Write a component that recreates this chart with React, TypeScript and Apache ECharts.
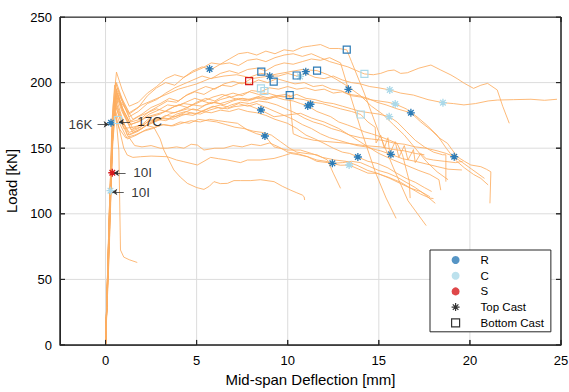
import React, { useEffect, useRef } from "react";
import * as echarts from "echarts";

// ---------- data (mid-span deflection [mm], load [kN]) ----------
const c01 = [[0,0],[0.2,90],[0.35,170],[0.5,198],[0.8,186],[1.3,176],[1.8,181],[2.3,190],[2.8,196],[3.3,200],[3.8,198],[4.3,204],[4.8,208],[5.3,211],[5.8,215],[6.3,214],[6.8,218],[7.3,222],[7.8,223],[8.3,221],[8.8,224],[9.3,222],[9.8,225],[10.3,224],[10.8,227],[11.3,228],[11.8,229],[12.3,226],[12.8,226],[13.24,225],[13.5,216],[14.2,192],[15,162],[15.8,135],[16.6,110],[17.6,91]];
const c02 = [[0,0],[0.2,100],[0.4,180],[0.6,208],[0.9,195],[1.3,182],[1.8,185],[2.3,192],[2.8,197],[3.3,203],[3.8,206],[4.3,204],[4.8,209],[5.3,212],[5.8,210],[6.3,214],[6.8,215],[7.3,213],[7.8,217],[8.3,218],[8.8,216],[9.3,219],[9.8,221],[10.3,222],[10.8,220],[11.3,222],[11.8,219],[12.3,216],[12.8,214],[13.3,212],[13.8,209],[14.21,206.6],[14.7,206],[15.1,207],[15.5,209],[15.84,209.6],[16.2,207],[16.57,207.5],[17.2,211],[17.86,213.4],[18.4,209.6],[18.96,205.8],[19.3,203],[19.7,199.4],[20.2,195.6],[20.6,198],[20.97,199.4],[21.5,194.4],[21.8,182],[22.16,169]];
const c03 = [[0,0],[0.25,120],[0.45,185],[0.65,196],[1,184],[1.5,172],[2,176],[2.5,181],[3,184],[3.5,188],[4,186],[4.5,191],[5,194],[5.5,197],[6,195],[6.5,199],[7,201],[7.5,199],[8,203],[8.5,204],[9,205],[9.5,205],[10,207],[10.5,205],[11,207],[11.5,204],[12,203],[12.5,205],[13,202],[13.5,200],[14,199],[14.5,197],[15,196],[15.6,194.4],[16.2,192],[16.9,190.5],[17.7,187],[18.52,184.7],[19.1,184],[19.67,183],[20.3,184],[21,186],[21.5,186.7],[22.4,187],[23.35,187.3],[24.1,186.5],[24.78,187.3]];
const c04 = [[0,0],[0.2,80],[0.4,165],[0.55,200],[0.85,188],[1.3,174],[1.8,178],[2.3,184],[2.8,187],[3.3,192],[3.8,196],[4.3,199],[4.8,202],[5.3,205],[5.8,203],[6.3,207],[6.8,209],[7.3,207],[7.8,210],[8.3,211],[8.8,209],[9.3,213],[9.8,215],[10.3,214],[10.8,216],[11.3,218],[11.8,217],[12.3,219],[12.9,215],[13.33,195],[14,165],[14.8,132],[15.4,112],[15.95,96.5]];
const c05 = [[0,0],[0.2,95],[0.4,172],[0.6,195],[0.9,186],[1.4,170],[1.9,172],[2.4,178],[2.9,182],[3.4,186],[3.9,185],[4.4,190],[4.9,193],[5.4,191],[5.9,195],[6.4,198],[6.9,197],[7.4,200],[7.9,199],[8.4,202],[8.9,200],[9.4,203],[9.9,201],[10.4,199],[10.9,200],[11.4,197],[11.9,198],[12.4,195],[12.9,194],[13.4,191],[13.9,190],[14.4,188],[14.9,185],[15.4,183],[16,180],[16.76,177],[17.3,170],[17.86,163.9],[18.3,158],[18.77,153.7],[19.3,143.5],[19.7,140],[20.05,137.2],[20.6,135.9],[20.9,134],[21.15,132],[21.1,108]];
const c06 = [[0,0],[0.25,110],[0.45,178],[0.7,190],[1,178],[1.5,165],[2,168],[2.5,174],[3,176],[3.5,180],[4,183],[4.5,181],[5,185],[5.5,188],[6,186],[6.5,190],[7,192],[7.5,190],[8,194],[8.5,193],[9,196],[9.5,195],[10,197],[10.5,195],[11,196],[11.5,194],[12,195],[12.5,192],[13,193],[13.5,190],[14,189],[14.5,187],[15,186],[15.5,185],[15.9,183.7],[16.5,180],[17,175],[17.6,168],[18.2,160],[18.7,150],[19.2,141],[19.7,135],[20.2,130],[20.6,127],[21,122]];
const c07 = [[0,0],[0.25,115],[0.45,175],[0.7,188],[1,176],[1.5,162],[2,165],[2.5,170],[3,172],[3.5,176],[4,178],[4.5,180],[5,179],[5.5,183],[6,185],[6.5,183],[7,186],[7.5,188],[8,187],[8.5,190],[9,188],[9.5,190],[10,189],[10.5,191],[11,188],[11.5,187],[12,185],[12.5,184],[13,182],[13.5,180],[14,178],[14.5,177],[15,176],[15.57,174],[16,170],[16.5,163],[17,156],[17.5,151],[18,147],[18.5,145],[18.68,145],[18.68,124.5]];
const c08 = [[0,0],[0.2,85],[0.4,168],[0.55,186],[0.85,174],[1.3,160],[1.8,163],[2.3,168],[2.8,171],[3.3,175],[3.8,174],[4.3,177],[4.8,180],[5.3,178],[5.8,181],[6.3,183],[6.8,181],[7.3,184],[7.8,182],[8.3,184],[8.8,181],[9.3,178],[9.8,175],[10.3,172],[10.8,168],[11.3,165],[11.8,161],[12.3,158],[12.8,156],[13.3,154],[13.8,152],[14.3,151],[14.8,149],[15.1,148],[15.66,145.3],[16.3,142],[17,140],[17.6,138],[18.2,136],[18.8,134],[19.56,133.4]];
const c09 = [[0,0],[0.2,90],[0.4,170],[0.6,190],[0.9,178],[1.4,164],[1.9,166],[2.4,171],[2.9,173],[3.4,172],[3.9,176],[4.4,178],[4.9,176],[5.4,179],[5.9,182],[6.4,180],[6.9,183],[7.4,185],[7.9,184],[8.4,186],[8.9,185],[9.4,183],[9.9,180],[10.4,177],[10.9,173],[11.4,170],[11.9,168],[12.4,165],[12.9,163],[13.4,160],[14,158],[14.6,157],[15.2,156],[15.8,154],[16.4,153],[17,151],[17.6,150],[18.2,148],[18.7,146],[19.14,143.5],[19.6,139],[20.1,134],[20.5,130],[20.8,127]];
const c10 = [[0,0],[0.25,105],[0.45,175],[0.65,192],[0.95,180],[1.4,168],[1.9,171],[2.4,176],[2.9,179],[3.4,183],[3.9,182],[4.4,185],[4.9,188],[5.4,186],[5.9,189],[6.4,191],[6.9,189],[7.4,191],[7.9,193],[8.4,191],[8.9,192],[9.4,190],[9.9,191],[10.4,188],[10.9,187],[11.4,185],[11.9,184],[12.4,182],[12.9,180],[13.5,178],[14.01,175.7],[14.4,170],[14.8,166],[14.85,154],[15.1,160],[15.3,150],[15.5,158],[15.6,146],[15.9,155],[16.1,143],[16.4,152],[16.6,141],[16.9,149],[17.0,139],[17.3,146],[17.6,142],[18,141],[18.6,140],[19.2,139],[19.6,140]];
const c11 = [[0,0],[0.2,95],[0.4,172],[0.6,193],[0.9,181],[1.3,170],[1.8,174],[2.3,177],[2.8,180],[3.3,178],[3.8,182],[4.3,184],[4.8,183],[5.3,186],[5.8,184],[6.3,187],[6.8,189],[7.3,187],[7.8,186],[8.3,188],[8.8,187],[9.3,189],[9.8,187],[10.3,186],[10.7,184],[11.1,182.2],[11.6,178],[12.36,174],[12.8,170],[13.28,167.7],[13.8,165],[14.2,162.6],[14.6,161],[15.1,158.7],[15.6,156],[16.0,153.7],[16.3,145],[16.5,134],[16.67,125],[16.72,112]];
const c12 = [[0,0],[0.2,80],[0.4,160],[0.55,182],[0.8,172],[1.2,160],[1.7,163],[2.2,167],[2.7,170],[3.2,173],[3.7,172],[4.2,175],[4.7,177],[5.2,176],[5.7,179],[6.2,181],[6.7,180],[7.05,181.6],[7.79,182.9],[8.53,179],[9.25,174],[9.98,175.3],[10.7,176.6],[11.3,173],[12,170],[12.8,165],[13.5,159],[14.3,152],[15,146],[15.8,141],[16.5,137],[17.2,133],[17.8,130],[18.3,126],[18.4,118]];
const c13 = [[0,0],[0.2,75],[0.4,155],[0.55,178],[0.8,168],[1.2,157],[1.7,160],[2.2,164],[2.7,166],[3.2,168],[3.7,167],[4.2,169],[4.7,171],[5.2,170],[5.7,172],[6.2,171],[6.7,170],[7.24,169],[7.79,163.9],[8.3,161],[8.75,159.3],[9.25,151],[9.98,148.6],[10.7,148.6],[11.3,146],[11.9,143],[12.6,141],[13.2,140],[13.8,137],[14.4,133],[14.9,131],[15.6,127],[16.2,123],[16.76,119.4],[17.3,115],[17.8,112],[18.0,111.6]];
const c14 = [[0,0],[0.2,90],[0.4,165],[0.55,190],[0.8,178],[1.2,160],[1.6,152],[2,151],[2.5,152],[3,150],[3.4,150],[3.9,151],[4.3,150],[4.7,153],[5.04,152.4],[5.4,148.6],[6,150],[6.5,150],[7,152],[7.5,151],[8,153],[8.5,152],[9,154],[9.5,151],[10,147],[10.5,146],[11.1,143.5],[11.6,141],[12.1,140],[12.45,138.5],[13,139],[13.5,140],[14,139],[14.5,136],[15,133],[15.5,131],[16,128],[16.5,124],[17,120],[17.5,115],[18.1,108]];
const c15 = [[0,0],[0.2,85],[0.35,160],[0.5,185],[0.75,174],[1,165],[1.5,166],[2,168],[2.65,166],[3.0,157],[3.2,148.6],[3.75,133.4],[4.1,128],[4.49,123.2],[5,120],[5.4,118.6],[5.7,121],[5.95,124.5],[6.3,123],[6.69,123.2],[7.05,125.3],[7.4,125.3],[7.97,125.3],[8.5,126],[9.25,124.5],[9.7,121],[10.16,118],[10.5,116],[10.8,114.3],[10.9,113],[10.93,110.5]];
const c16 = [[0,0],[0.2,80],[0.35,150],[0.5,178],[0.75,165],[1.0,150],[1.19,144.8],[1.5,143],[1.92,143.5],[2.5,144],[3.39,143.5],[3.9,141],[4.3,139.7],[5.04,137.2],[5.4,140],[5.77,143],[6.2,142],[6.69,141],[7.4,139],[7.79,141],[8.5,141],[9.25,142.2],[9.7,144],[10.16,146],[10.6,145],[11.08,143.5],[11.6,140],[12.2,139],[12.9,137],[13.37,137.2],[13.9,134],[14.4,131],[14.9,130.8],[15.5,128],[16.2,124],[16.76,119.4],[17.3,117],[17.8,113]];
const c17 = [[0,0],[0.2,85],[0.4,165],[0.55,185],[0.85,172],[1.3,162],[1.8,165],[2.3,170],[2.8,172],[3.3,171],[3.8,174],[4.3,176],[4.8,175],[5.3,178],[5.8,177],[6.3,179],[6.8,178],[7.3,180],[7.8,178],[8.3,177],[8.8,175],[9.3,172],[9.98,169],[10.5,165],[11.0,160],[11.5,157],[11.99,153.7],[12.5,150],[13.0,147],[13.4,146],[13.85,143.3],[14.4,140],[14.9,138.5],[15.5,135],[16,130.8],[16.5,127],[17.0,124],[17.5,120],[17.9,117]];
const c18 = [[0,0],[0.2,70],[0.35,150],[0.5,176],[0.75,165],[1.1,158],[1.6,160],[2.1,163],[2.6,165],[3.1,168],[3.6,167],[4.1,170],[4.6,169],[5.1,172],[5.6,171],[6.1,170],[6.6,168],[7.1,166],[7.6,165],[8.1,163],[8.6,162],[9.1,160],[9.6,155],[10.1,150],[10.5,147],[11.0,146],[11.6,145],[12.18,141],[12.5,131],[12.9,119.4]];
const c19 = [[0,0],[0.2,90],[0.35,160],[0.5,188],[0.6,170],[0.73,148.6],[0.82,72.4],[1.0,67],[1.3,65],[1.74,62.9]];
const c20 = [[0,0],[0.2,95],[0.4,170],[0.6,192],[0.9,180],[1.3,168],[1.8,170],[2.3,174],[2.8,176],[3.3,178],[3.8,177],[4.3,180],[4.8,183],[5.3,182],[5.8,185],[6.3,184],[6.8,186],[7.3,188],[7.8,187],[8.3,189],[8.8,188],[9.3,190],[9.8,189],[10.11,190.5],[10.2,175],[10.3,161],[10.8,158],[11.45,156],[12.2,155],[13.3,153.7],[14.2,152],[15.1,151],[15.8,149],[16.4,148],[17.0,146],[17.5,145]];
const c21 = [[0,0],[0.2,100],[0.4,175],[0.6,200],[0.9,188],[1.3,177],[2,183],[2.5,186],[3,189],[3.5,192],[4,195],[4.5,197],[5,199],[5.71,203],[6.5,205],[7.2,206],[7.88,204],[8.5,207],[9.2,206],[10,208],[10.8,210],[11.61,209.1],[12.2,206],[12.6,203],[13.2,198],[14,190],[14.6,182],[15.2,176],[15.8,168],[16.4,160],[17,150],[17.6,140],[18.2,132],[18.8,126]];
const curves = [c01, c02, c03, c04, c05, c06, c07, c08, c09, c10, c11, c12, c13, c14, c15, c16, c17, c18, c19, c20, c21];

// markers: top cast (asterisk) and bottom cast (square) per group
const rTop = [[0.3,169.4],[5.71,210.4],[9.01,204.9],[10.99,208.3],[13.33,194.9],[8.53,179.1],[8.75,159.3],[11.1,182.2],[11.25,183.5],[12.45,138.5],[13.85,143.3],[15.66,145.3],[16.76,177],[19.14,143.5]];
const cTop = [[0.27,117.6],[10.68,204.7],[13.37,137.2],[15.6,194.4],[15.9,183.7],[15.57,174],[18.52,184.7]];
const sTop = [[0.37,131.3]];
const rBottom = [[8.55,208.3],[9.23,200.7],[10.49,205.4],[11.61,209.1],[13.24,225.1],[10.11,190.5]];
const cBottom = [[0.68,171.5],[8.53,195.6],[8.72,193.6],[14.21,206.6],[14.01,175.7]];
const sBottom = [[7.88,201.2]];

// annotations
const annotLabels = [
  { text: "16K", x: -0.72, y: 168.1, side: "left" },
  { text: "17C", x: 1.74, y: 170, side: "right" },
  { text: "10I", x: 1.52, y: 131.1, side: "right" },
  { text: "10I", x: 1.41, y: 116.6, side: "right" },
];
const annotArrows = [
  { from: [-0.44, 168.1], to: [0.17, 168.1] },
  { from: [1.34, 170], to: [0.73, 170] },
  { from: [1.1, 131.1], to: [0.46, 131.1] },
  { from: [1.0, 116.6], to: [0.37, 116.6] },
];

const xMin = -2.5;
const xMax = 25;
const xTicks = [0, 5, 10, 15, 20, 25];
const yMin = 0;
const yMax = 250;
const yTicks = [0, 50, 100, 150, 200, 250];
const legendNames = ["R", "C", "S", "Top Cast", "Bottom Cast"];

const COL_R = "#2c7bb6";
const COL_C = "#abd9e9";
const COL_S = "#d7191c";
const ORANGE = "#fdae61";
const AXIS = "#262626";
const GRIDC = "#dcdcdc";
const FONT = "Liberation Sans, Arial, Helvetica, sans-serif";
const ASTER = "path://M5,0L5,10M0,5L10,5M1.5,1.5L8.5,8.5M1.5,8.5L8.5,1.5";
const SQUARE = "path://M0,0L10,0L10,10L0,10Z";

function markerSeries(name: string, data: number[][], color: string, top: boolean) {
  return {
    type: "scatter",
    name,
    data,
    symbol: top ? ASTER : "rect",
    symbolSize: top ? 8 : 7,
    z: 5,
    itemStyle: top
      ? { color, borderColor: color, borderWidth: 1.3, opacity: 1 }
      : { color: "rgba(0,0,0,0)", borderColor: color, borderWidth: 1.2, opacity: 1 },
  };
}

function polySeries(name: string, data: number[][], color: string, z: number) {
  return {
    type: "line",
    name,
    data,
    showSymbol: false,
    symbol: "none",
    z,
    lineStyle: { color, width: 1, opacity: 1 },
    emphasis: { disabled: true },
  };
}

export default function App() {
  const ref = useRef<HTMLDivElement>(null);
  useEffect(() => {
    if (!ref.current) return;
    const chart = echarts.init(ref.current, null, { renderer: "svg" });
    const lineSeries = curves.map((c, i) => ({
      type: "line",
      name: "curve" + i,
      data: c,
      showSymbol: false,
      symbol: "none",
      z: 2,
      lineStyle: { color: ORANGE, width: 1, opacity: 0.85 },
      emphasis: { disabled: true },
    }));

    // vertical grid lines as one serpentine polyline (connecting runs lie on the frame)
    const vGrid: number[][] = [];
    xTicks.forEach((v, i) => {
      if (i % 2 === 0) { vGrid.push([v, yMin], [v, yMax]); } else { vGrid.push([v, yMax], [v, yMin]); }
    });
    // horizontal grid lines, same idea, running along the left/right frame edges
    const hGrid: number[][] = [];
    yTicks.forEach((v, i) => {
      if (i % 2 === 0) { hGrid.push([xMin, v], [xMax, v]); } else { hGrid.push([xMax, v], [xMin, v]); }
    });
    // closed frame
    const frame = [[xMin, yMin], [xMin, yMax], [xMax, yMax], [xMax, yMin], [xMin, yMin]];
    // inward tick marks along top and right edges, as one polyline each
    const tx = (xMax - xMin) / 100;
    const ty = (yMax - yMin) / 65;
    const topTicks: number[][] = [[xMin, yMax]];
    xTicks.forEach((v) => { topTicks.push([v, yMax], [v, yMax - ty], [v, yMax]); });
    const bottomTicks: number[][] = [[xMin, yMin]];
    xTicks.forEach((v) => { bottomTicks.push([v, yMin], [v, yMin + ty], [v, yMin]); });
    const rightTicks: number[][] = [[xMax, yMin]];
    yTicks.forEach((v) => { rightTicks.push([xMax, v], [xMax - tx, v], [xMax, v]); });
    const leftTicks: number[][] = [[xMin, yMin]];
    yTicks.forEach((v) => { leftTicks.push([xMin, v], [xMin + tx, v], [xMin, v]); });

    const dummy = [
      { type: "scatter", name: "R", data: [], symbol: "circle", itemStyle: { color: COL_R } },
      { type: "scatter", name: "C", data: [], symbol: "circle", itemStyle: { color: COL_C } },
      { type: "scatter", name: "S", data: [], symbol: "circle", itemStyle: { color: COL_S } },
      { type: "scatter", name: "Top Cast", data: [], symbol: ASTER, itemStyle: { color: "#000", borderColor: "#000", borderWidth: 1.2 } },
      { type: "scatter", name: "Bottom Cast", data: [], symbol: SQUARE, itemStyle: { color: "rgba(0,0,0,0)", borderColor: "#000", borderWidth: 1.2 } },
    ];
    chart.setOption({
      animation: false,
      backgroundColor: "#fff",
      textStyle: { fontFamily: FONT },
      grid: { left: 60, right: 8, top: 17, bottom: 47, outerBoundsMode: "none" },
      legend: {
        data: legendNames,
        orient: "vertical",
        left: 430,
        top: 250,
        padding: [4, 7, 3, 21],
        itemWidth: 40,
        itemHeight: 8,
        itemGap: 3.7,
        borderColor: AXIS,
        borderWidth: 1,
        borderRadius: 0,
        backgroundColor: "#fff",
        selectedMode: false,
        textStyle: { fontSize: 11.5, color: "#000", fontFamily: FONT, lineHeight: 12 },
        itemStyle: { borderWidth: 1.2 },
      },
      xAxis: {
        type: "value",
        min: xMin,
        max: xMax,
        name: "Mid-span Deflection [mm]",
        nameLocation: "middle",
        nameGap: 27,
        nameTextStyle: { fontSize: 15, color: "#000", fontFamily: FONT },
        axisLine: { show: true, onZero: false, lineStyle: { color: AXIS, width: 1 } },
        axisTick: { show: false },
        axisLabel: { customValues: xTicks, fontSize: 13, color: "#000", margin: 9, fontFamily: FONT },
        splitLine: { show: false },
      },
      yAxis: {
        type: "value",
        min: yMin,
        max: yMax,
        interval: 50,
        name: "Load [kN]",
        nameLocation: "middle",
        nameGap: 35,
        nameTextStyle: { fontSize: 15, color: "#000", fontFamily: FONT },
        axisLine: { show: true, onZero: false, lineStyle: { color: AXIS, width: 1 } },
        axisTick: { show: false },
        axisLabel: { fontSize: 13, color: "#000", margin: 8, fontFamily: FONT },
        splitLine: { show: false },
      },
      series: [
        polySeries("vGrid", vGrid, GRIDC, 0),
        polySeries("hGrid", hGrid, GRIDC, 0),
        ...lineSeries,
        polySeries("frame", frame, AXIS, 7),
        polySeries("topTicks", topTicks, AXIS, 7),
        polySeries("bottomTicks", bottomTicks, AXIS, 7),
        polySeries("rightTicks", rightTicks, AXIS, 7),
        polySeries("leftTicks", leftTicks, AXIS, 7),
        markerSeries("rTop", rTop, COL_R, true),
        markerSeries("cTop", cTop, COL_C, true),
        markerSeries("sTop", sTop, COL_S, true),
        markerSeries("rBottom", rBottom, COL_R, false),
        markerSeries("cBottom", cBottom, COL_C, false),
        markerSeries("sBottom", sBottom, COL_S, false),
        {
          type: "lines",
          name: "arrows",
          coordinateSystem: "cartesian2d",
          z: 6,
          symbol: ["none", "arrow"],
          symbolSize: 5,
          lineStyle: { color: "#333", width: 0.8, opacity: 1 },
          data: annotArrows.map((a) => ({ coords: [a.from, a.to] })),
        },
        {
          type: "scatter",
          name: "annot",
          symbolSize: 0,
          z: 6,
          data: annotLabels.map((a) => ({
            name: a.text,
            value: [a.x, a.y],
            label: {
              show: true,
              position: a.side === "left" ? "left" : "right",
              distance: 0,
              formatter: a.text,
              fontSize: 13.5,
              color: "#000",
              fontFamily: FONT,
            },
          })),
        },
        ...dummy,
      ],
    });
    return () => chart.dispose();
  }, []);
  return <div ref={ref} style={{ position: "fixed", left: 0, top: 0, width: 569, height: 392 }} />;
}
